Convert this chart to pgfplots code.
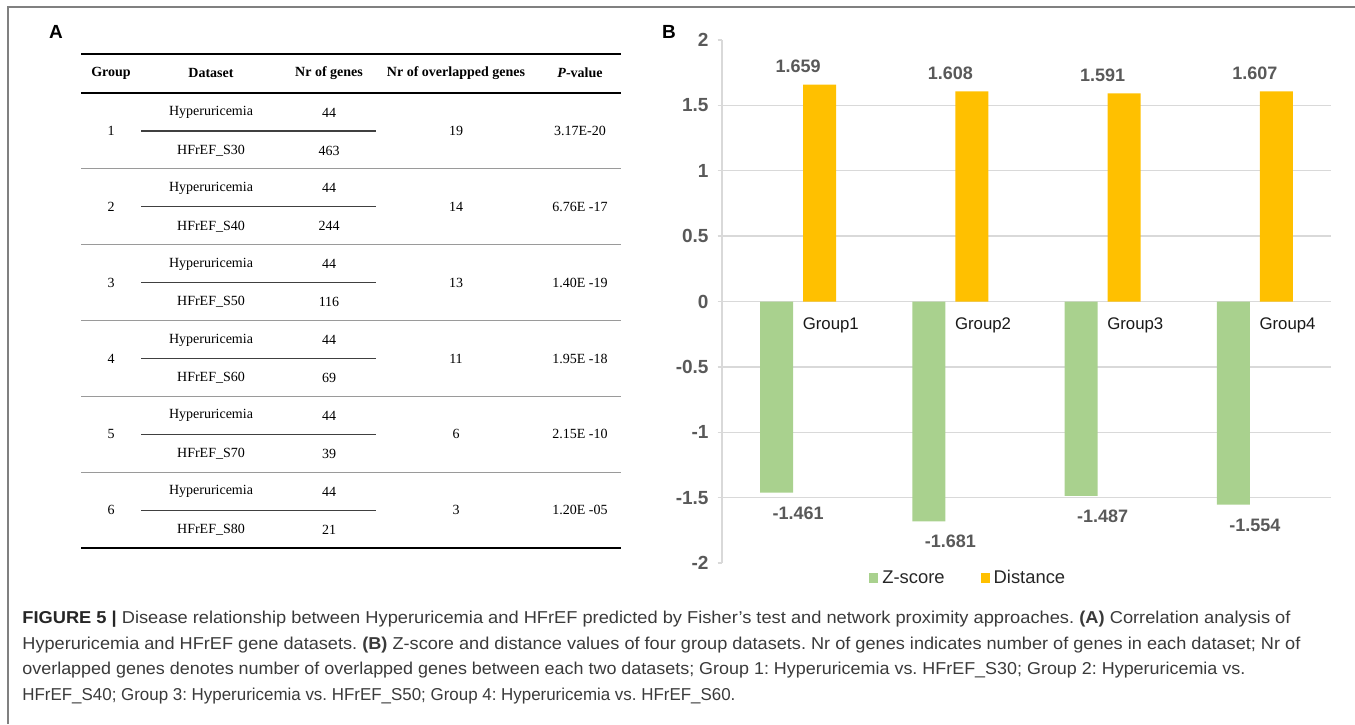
\documentclass[border=0pt]{standalone}
\usepackage{fontspec}
\setmainfont{Liberation Sans}
\newfontfamily\tnr{Liberation Serif}
\usepackage{graphicx}
\usepackage{pgfplots}
\pgfplotsset{compat=1.18}
\definecolor{zgreen}{HTML}{A9D18E}
\definecolor{dorange}{HTML}{FFC000}
\definecolor{gridgray}{HTML}{D9D9D9}
\definecolor{labgray}{HTML}{595959}
\definecolor{framegray}{HTML}{808080}
\definecolor{captext}{HTML}{3A3A3A}
\definecolor{rulegray}{HTML}{9A9A9A}
\frenchspacing
\begin{document}
\begin{tikzpicture}[x=0.5pt,y=-0.5pt]
\path[use as bounding box] (0,0) rectangle (1355,724);
% frame
\draw[framegray, line width=0.9pt] (8,724) -- (8,7) -- (1355,7);
% panel letters
\node[font=\bfseries\fontsize{9.5}{10}\selectfont, inner sep=0pt] at (56,32) {A};
\node[font=\bfseries\fontsize{9.5}{10}\selectfont, inner sep=0pt] at (669,32) {B};
% ---------- table ----------
\begin{scope}[every node/.style={font=\tnr\fontsize{7}{8}\selectfont, inner sep=0pt}]
\draw[line width=1pt] (81,54) -- (621,54);
\draw[line width=0.8pt] (81,93) -- (621,93);
\draw[line width=1pt] (81,548) -- (621,548);
\node[font=\tnr\bfseries\fontsize{7}{8}\selectfont] at (111,73) {Group};
\node[font=\tnr\bfseries\fontsize{7}{8}\selectfont] at (211,73) {Dataset};
\node[font=\tnr\bfseries\fontsize{7}{8}\selectfont] at (329,73) {Nr of genes};
\node[font=\tnr\bfseries\fontsize{7}{8}\selectfont] at (456,73) {Nr of overlapped genes};
\node[font=\tnr\bfseries\fontsize{7}{8}\selectfont] at (580,73) {\textit{P}-value};
\foreach \k/\g/\s/\n/\ov/\p in {0/1/30/463/19/3.17E-20, 1/2/40/244/14/6.76E -17, 2/3/50/116/13/1.40E -19, 3/4/60/69/11/1.95E -18, 4/5/70/39/6/2.15E -10, 5/6/80/21/3/1.20E -05}{
  \pgfmathsetmacro\ys{93+75.83*\k}
  \node at (211,{\ys+19.5}) {Hyperuricemia};
  \node at (329,{\ys+19.5}) {44};
  \node at (211,{\ys+57.5}) {HFrEF\_S\s};
  \node at (329,{\ys+57.5}) {\n};
  \node at (111,{\ys+38}) {\g};
  \node at (456,{\ys+38}) {\ov};
  \node at (580,{\ys+38}) {\p};
  \draw[line width=0.55pt, black!75] (141,{\ys+38}) -- (376,{\ys+38});
}
\foreach \k in {1,...,5}{
  \pgfmathsetmacro\ys{93+75.83*\k}
  \draw[line width=0.6pt, rulegray] (81,\ys) -- (621,\ys);
}
\end{scope}
% ---------- chart ----------
\begin{axis}[
  at={(361pt,-281.5pt)}, anchor=south west,
  scale only axis, width=304.5pt, height=261.5pt,
  xmin=0.5, xmax=4.5, ymin=-2, ymax=2,
  axis y line*=left, axis x line*=middle,
  x axis line style={draw=none},
  y axis line style={draw=gridgray, line width=0.7pt},
  ytick={-1.5,-1,-0.5,0,0.5,1,1.5},
  extra y ticks={-2,2}, extra y tick style={grid=none},
  ymajorgrids, grid style={draw=gridgray, line width=0.7pt},
  tick align=outside, major tick length=2.2pt,
  ytick style={draw=gridgray, line width=0.7pt},
  /pgf/number format/assume math mode=true,
  yticklabel style={font=\bfseries\fontsize{9.5}{10}\selectfont, text=labgray, xshift=-1pt},
  xtick={1,2,3,4}, xticklabels={Group1,Group2,Group3,Group4},
  xtick style={draw=none},
  xticklabel style={anchor=north west, font=\fontsize{8.4}{9}\selectfont, text=black!90, xshift=-1.2pt, yshift=-2.5pt},
  clip=false,
  legend style={at={(0.406,-0.029)}, anchor=center, draw=none, fill=none,
    legend columns=2, font=\fontsize{9.2}{10}\selectfont, text=black!85,
    /tikz/every even column/.append style={column sep=16pt}},
  legend image code/.code={\fill[#1] (0pt,-2.5pt) rectangle (4.5pt,2.5pt);},
]
\addplot[ybar, bar width=16.5pt, bar shift=-10.75pt, fill=zgreen, draw=none,
  point meta=explicit symbolic, nodes near coords,
  every node near coord/.append style={anchor=north, yshift=-3.5pt, font=\bfseries\fontsize{9}{10}\selectfont, text=labgray}]
  coordinates {(1,-1.461) [-1.461] (2,-1.681) [-1.681] (3,-1.487) [-1.487] (4,-1.554) [-1.554]};
\addlegendentry{Z-score}
\addplot[ybar, bar width=16.5pt, bar shift=10.75pt, fill=dorange, draw=none,
  point meta=explicit symbolic, nodes near coords,
  every node near coord/.append style={anchor=south, yshift=2.5pt, font=\bfseries\fontsize{9}{10}\selectfont, text=labgray}]
  coordinates {(1,1.659) [1.659] (2,1.608) [1.608] (3,1.591) [1.591] (4,1.607) [1.607]};
\addlegendentry{Distance}
\end{axis}
% ---------- caption ----------
\begin{scope}[every node/.style={anchor=base west, inner sep=0pt, font=\fontsize{8.6}{10}\selectfont, text=captext}]
\node at (22,623) {\resizebox{634pt}{\height}{\textbf{\color{black!85}FIGURE 5 |} Disease relationship between Hyperuricemia and HFrEF predicted by Fisher’s test and network proximity approaches. \textbf{(A)} Correlation analysis of}};
\node at (22,649) {\resizebox{639pt}{\height}{Hyperuricemia and HFrEF gene datasets. \textbf{(B)} Z-score and distance values of four group datasets. Nr of genes indicates number of genes in each dataset; Nr of}};
\node at (22,674) {\resizebox{611.5pt}{\height}{overlapped genes denotes number of overlapped genes between each two datasets; Group 1: Hyperuricemia vs. HFrEF\_S30; Group 2: Hyperuricemia vs.}};
\node at (22,700) {\resizebox{356.5pt}{\height}{HFrEF\_S40; Group 3: Hyperuricemia vs. HFrEF\_S50; Group 4: Hyperuricemia vs. HFrEF\_S60.}};
\end{scope}
\end{tikzpicture}
\end{document}
